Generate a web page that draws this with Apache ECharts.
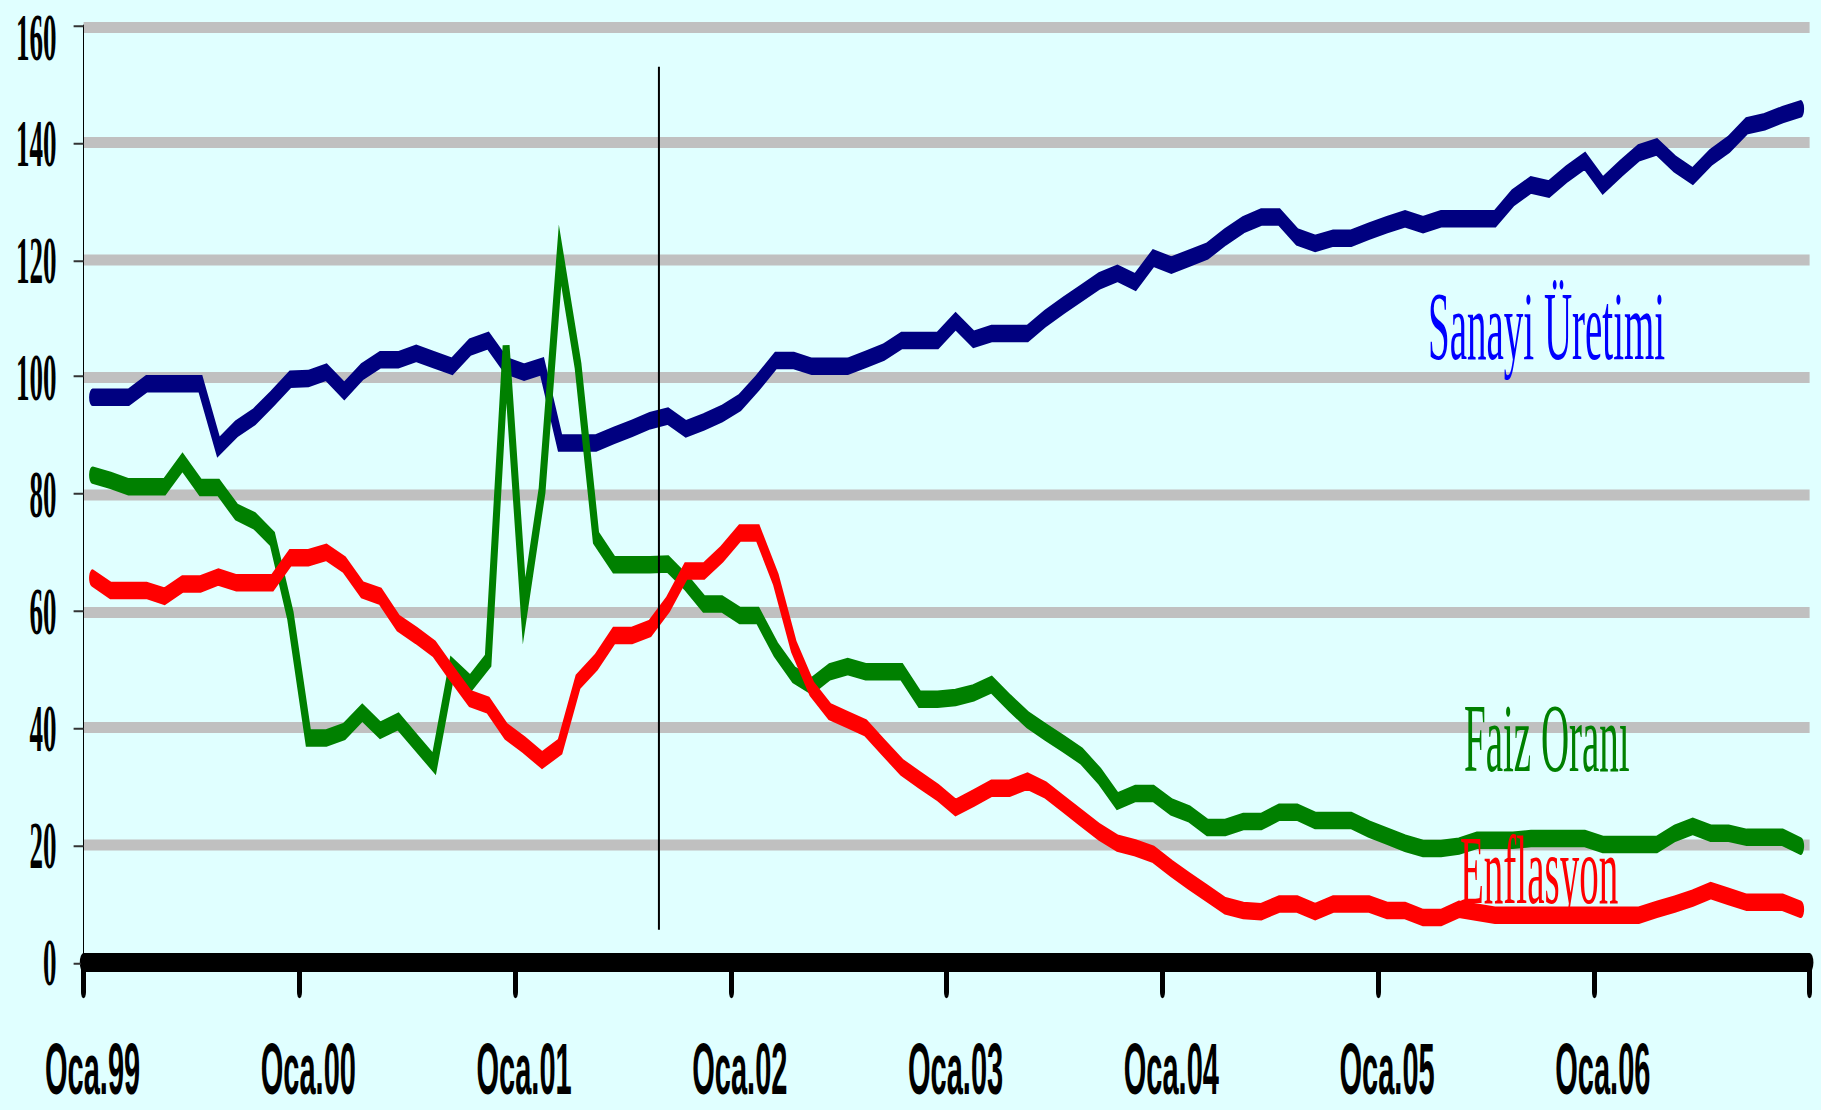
<!DOCTYPE html>
<html>
<head>
<meta charset="utf-8">
<title>Sanayi Üretimi, Faiz Oranı ve Enflasyon</title>
<script src="https://cdn.jsdelivr.net/npm/echarts@6/dist/echarts.min.js"></script>
<style>
html { margin: 0; padding: 0; background: #E0FFFF; overflow: hidden; }
body { margin: 0; padding: 0; width: 1821px; height: 1110px; background: #E0FFFF; }
/* eski slaytta grafik dikey olarak gerilmiş: düz çizip CSS ile geriyoruz */
#chart { width: 1821px; height: 444px; transform: scaleY(2.5); transform-origin: 0 0; }
</style>
</head>
<body>
<div id="chart"></div>
<script>
// eksen etiketleri
const aylar = ['Oca', 'Şub', 'Mar', 'Nis', 'May', 'Haz', 'Tem', 'Ağu', 'Eyl', 'Eki', 'Kas', 'Ara'];
const yillar = ['99', '00', '01', '02', '03', '04', '05', '06'];

// aylık seriler (Oca.99 - Ara.06)
const sanayiUretimi = [
    96.5, 96.5, 96.5, 98.8, 98.8, 98.8, 98.8, 88.0, 91.1, 93.2, 96.3, 99.6,
    99.7, 100.8, 97.6, 100.9, 102.9, 102.9, 104.0, 102.9, 101.8, 105.1, 106.2, 101.9,
    100.8, 101.8, 88.7, 88.7, 88.7, 90.0, 91.2, 92.5, 93.3, 91.1, 92.3, 93.7,
    95.6, 99.0, 102.8, 102.8, 101.8, 101.8, 101.8, 103.0, 104.2, 106.2, 106.2, 106.2,
    109.5, 106.4, 107.4, 107.4, 107.4, 110.0, 112.2, 114.3, 116.4, 117.7, 116.2, 120.3,
    119.1, 120.3, 121.5, 123.9, 126.0, 127.3, 127.3, 123.9, 122.8, 123.7, 123.7, 124.9,
    126.0, 127.0, 126.0, 127.0, 127.0, 127.0, 127.0, 130.6, 132.8, 132.1, 134.7, 136.9,
    132.7, 135.6, 138.3, 139.3, 136.4, 134.3, 137.5, 139.7, 142.9, 143.6, 144.8, 145.8
];
const faizOrani = [
    83.2, 82.3, 81.2, 81.2, 81.2, 85.4, 81.1, 81.1, 76.9, 75.4, 72.3, 59.2,
    38.3, 38.3, 39.4, 42.6, 39.6, 41.1, 37.5, 33.9, 50.5, 47.6, 51.5, 105.2,
    60.0, 80.6, 120.8, 101.9, 72.5, 67.9, 67.9, 67.9, 68.0, 64.9, 61.2, 61.2,
    59.2, 59.2, 53.4, 49.1, 47.2, 49.6, 50.5, 49.6, 49.6, 49.6, 44.9, 44.9,
    45.2, 46.0, 47.4, 44.3, 41.4, 39.3, 37.3, 35.2, 31.8, 27.5, 28.8, 28.8,
    26.5, 25.3, 23.0, 23.0, 24.0, 24.0, 25.6, 25.6, 24.2, 24.2, 24.2, 22.7,
    21.5, 20.3, 19.4, 19.4, 19.8, 20.8, 20.8, 20.8, 21.1, 21.1, 21.1, 21.1,
    20.1, 20.1, 20.1, 20.1, 22.0, 23.2, 22.0, 22.0, 21.3, 21.3, 21.3, 19.8
];
const enflasyon = [
    65.6, 63.5, 63.5, 63.5, 62.5, 64.6, 64.6, 65.8, 64.8, 64.8, 64.8, 69.1,
    69.1, 70.0, 67.9, 63.6, 62.5, 57.9, 55.8, 53.5, 49.2, 45.0, 43.9, 39.4,
    37.1, 34.5, 36.8, 47.9, 51.2, 55.8, 55.8, 57.0, 61.1, 66.8, 66.8, 69.7,
    73.3, 73.3, 65.4, 53.9, 46.7, 42.8, 41.4, 40.0, 36.6, 33.3, 31.1, 29.0,
    26.4, 28.0, 29.7, 29.7, 30.9, 29.4, 27.0, 24.6, 22.2, 20.3, 19.5, 18.4,
    16.0, 13.8, 11.7, 9.6, 8.8, 8.6, 9.9, 9.9, 8.6, 9.9, 9.9, 9.9,
    8.8, 8.8, 7.6, 7.6, 9.0, 8.5, 8.0, 8.0, 8.0, 8.0, 8.0, 8.0,
    8.0, 8.0, 8.0, 9.0, 9.9, 10.9, 12.2, 11.2, 10.2, 10.2, 10.2, 9.0
];

// Ağustos 2001 sonrası ayırıcı dikey çizgi (ay sırası, değer aralığı)
const ayiriciX = [32, 32];
const ayiriciY = [5.5, 153];

let kategoriler = [];
yillar.forEach(y => {
    aylar.forEach(a => kategoriler.push(a + '.' + y));
});

function seri(name, data, color) {
    return {
        name: name,
        type: 'line',
        data: data,
        showSymbol: false,
        silent: true,
        lineStyle: { color: color, width: 7, cap: 'round', join: 'miter', miterLimit: 4 }
    };
}

const yaziY = { fontFamily: 'Liberation Serif', fontWeight: 'bold', fontSize: 27, color: '#000' };

const chart = echarts.init(document.getElementById('chart'), null, { renderer: 'svg' });

const option = {
    animation: false,
    backgroundColor: '#E0FFFF',
    grid: { left: 83.6, right: 11.4, top: 10.3, bottom: 59.2, outerBoundsMode: 'none' },
    xAxis: [
        {
            type: 'category',
            data: kategoriler,
            boundaryGap: true,
            axisLine: { show: true, lineStyle: { color: '#000', width: 7.6, cap: 'round' } },
            axisTick: { show: true, interval: 11, length: 12, lineStyle: { color: '#000', width: 5, cap: 'round' } },
            axisLabel: {
                interval: 11, margin: 31.7, color: '#000', lineHeight: 22,
                fontFamily: 'Liberation Sans', fontWeight: 'bold', fontSize: 29
            },
            splitLine: { show: false }
        },
        {
            // ayırıcı çizgi için gizli eksen
            type: 'value', min: 0, max: 96, show: false
        }
    ],
    yAxis: {
        type: 'value',
        min: 0,
        max: 160,
        interval: 20,
        axisLine: { show: true, lineStyle: { color: '#000', width: 1 } },
        axisTick: { show: true, length: 10, lineStyle: { color: '#333', width: 0.8 } },
        axisLabel: {
            margin: 27, lineHeight: 18,
            ...yaziY,
            // en üstteki etiket sayfanın kenarına değmesin
            formatter: v => (v === 160 ? '{ust|' + v + '}' : String(v)),
            rich: { ust: { ...yaziY, lineHeight: 18, padding: [9, 0, 0, 0] } }
        },
        splitLine: { show: true, lineStyle: { color: '#C0C0C0', width: 4.4 } }
    },
    series: [
        seri('Sanayi Üretimi', sanayiUretimi, '#000080'),
        seri('Faiz Oranı', faizOrani, '#008000'),
        seri('Enflasyon', enflasyon, '#FF0000'),
        {
            type: 'line',
            xAxisIndex: 1,
            data: ayiriciX.map((x, i) => [x, ayiriciY[i]]),
            showSymbol: false,
            silent: true,
            lineStyle: { color: '#000', width: 2 }
        }
    ],
    graphic: [
        {
            type: 'text', x: 1428, y: 130.4, z: 100,
            style: { text: 'Sanayi Üretimi', fill: '#0000FF', fontFamily: 'Liberation Serif', fontSize: 39, lineHeight: 30, verticalAlign: 'middle' }
        },
        {
            type: 'text', x: 1464, y: 295.2, z: 100,
            style: { text: 'Faiz Oranı', fill: '#008000', fontFamily: 'Liberation Serif', fontSize: 39, lineHeight: 30, verticalAlign: 'middle' }
        },
        {
            type: 'text', x: 1460, y: 348.0, z: 100,
            style: { text: 'Enflasyon', fill: '#FF0000', fontFamily: 'Liberation Serif', fontSize: 39, lineHeight: 30, verticalAlign: 'middle' }
        }
    ]
};

chart.setOption(option);
</script>
</body>
</html>
